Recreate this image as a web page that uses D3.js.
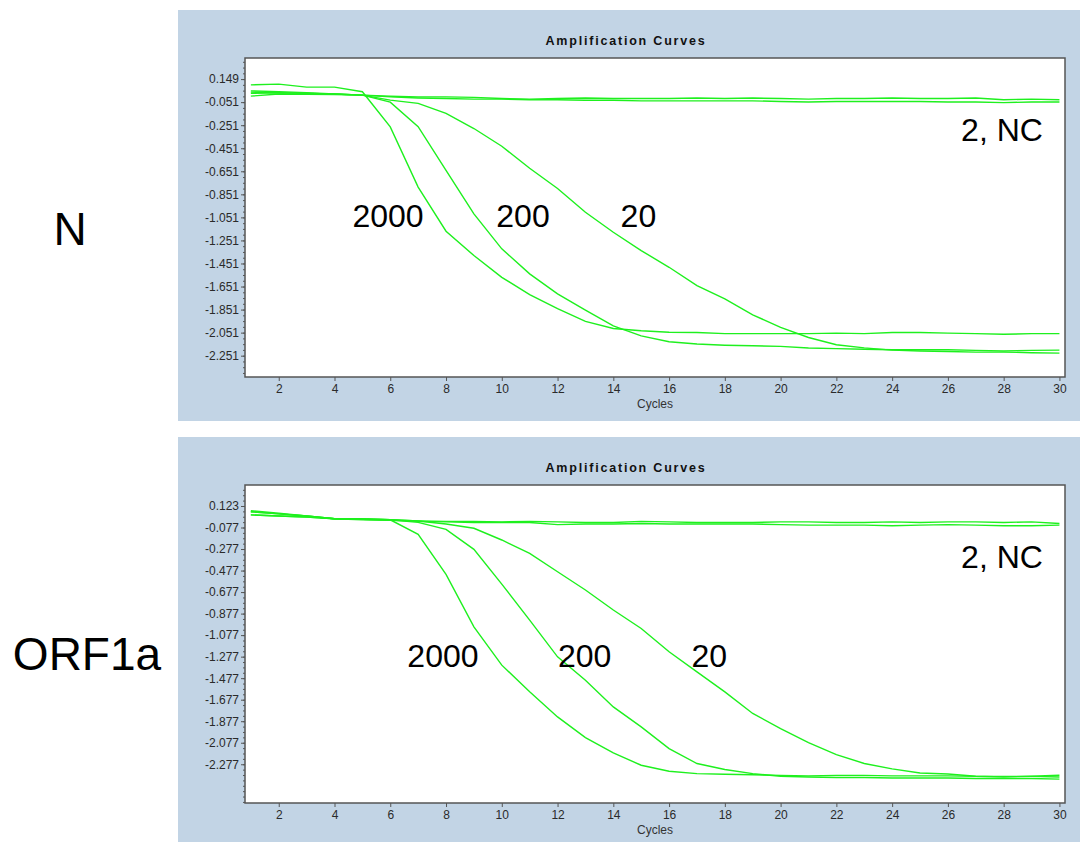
<!DOCTYPE html>
<html>
<head>
<meta charset="utf-8">
<script src="https://cdn.jsdelivr.net/npm/d3@7"></script>
<style>
  html, body { margin: 0; padding: 0; background: #fff; }
  svg { display: block; }
  .tick text { font-family: "Liberation Sans Narrow", "Liberation Sans", Arial, sans-serif; font-size: 12px; fill: #2a2a2a; }
  .tick line { stroke: #555; }
  .domain { display: none; }
</style>
</head>
<body>
<svg id="chart" width="1080" height="842"></svg>
<script>
const cycles = d3.range(1, 31)

// N gene
const nTicks = [0.149, -0.051, -0.251, -0.451, -0.651, -0.851, -1.051, -1.251, -1.451, -1.651, -1.851, -2.051, -2.251]
const n2000 = [0.099, 0.105, 0.079, 0.079, 0.039, -0.266, -0.788, -1.171, -1.382, -1.571, -1.722, -1.843, -1.954, -2.015, -2.035,
  -2.048, -2.05, -2.06, -2.06, -2.06, -2.06, -2.055, -2.06, -2.05, -2.05, -2.055, -2.06, -2.065, -2.06, -2.06]
const n200 = [0.047, 0.04, 0.03, 0.02, 0.01, -0.051, -0.264, -0.643, -1.02, -1.324, -1.541, -1.715, -1.855, -1.992, -2.079,
  -2.13, -2.15, -2.16, -2.165, -2.17, -2.185, -2.19, -2.195, -2.2, -2.2, -2.2, -2.205, -2.21, -2.205, -2.203]
const n20 = [0.025, 0.03, 0.025, 0.02, 0.01, -0.034, -0.062, -0.149, -0.28, -0.434, -0.625, -0.8, -1.006, -1.18, -1.339,
  -1.484, -1.643, -1.759, -1.896, -2.006, -2.093, -2.156, -2.183, -2.203, -2.21, -2.215, -2.22, -2.22, -2.225, -2.229]
const n2 = [0.036, 0.03, 0.025, 0.02, 0.01, 0.0, -0.005, -0.005, -0.01, -0.02, -0.025, -0.02, -0.015, -0.02, -0.02,
  -0.02, -0.015, -0.02, -0.015, -0.02, -0.025, -0.02, -0.02, -0.015, -0.02, -0.02, -0.015, -0.03, -0.025, -0.03]
const nNC = [0.001, 0.02, 0.018, 0.015, 0.01, -0.005, -0.015, -0.02, -0.025, -0.025, -0.03, -0.03, -0.035, -0.035, -0.04,
  -0.04, -0.04, -0.04, -0.04, -0.045, -0.05, -0.045, -0.045, -0.045, -0.045, -0.05, -0.05, -0.055, -0.05, -0.05]

// ORF1a gene
const orfTicks = [0.123, -0.077, -0.277, -0.477, -0.677, -0.877, -1.077, -1.277, -1.477, -1.677, -1.877, -2.077, -2.277]
const orf2000 = [0.079, 0.055, 0.03, 0.005, 0.005, -0.005, -0.14, -0.512, -1.0, -1.356, -1.604, -1.837, -2.029, -2.172, -2.286,
  -2.342, -2.364, -2.37, -2.375, -2.38, -2.385, -2.38, -2.38, -2.385, -2.385, -2.385, -2.39, -2.39, -2.39, -2.395]
const orf200 = [0.04, 0.03, 0.02, 0.005, 0.0, -0.005, -0.029, -0.094, -0.28, -0.603, -0.937, -1.279, -1.496, -1.744, -1.93,
  -2.131, -2.27, -2.326, -2.364, -2.389, -2.395, -2.4, -2.4, -2.405, -2.405, -2.405, -2.41, -2.41, -2.41, -2.415]
const orf20 = [0.07, 0.05, 0.03, 0.005, 0.0, -0.005, -0.017, -0.045, -0.084, -0.193, -0.317, -0.488, -0.658, -0.844, -1.015,
  -1.232, -1.418, -1.604, -1.805, -1.945, -2.075, -2.187, -2.27, -2.32, -2.358, -2.367, -2.389, -2.395, -2.389, -2.379]
const orf2 = [0.07, 0.05, 0.03, 0.005, 0.0, -0.005, -0.015, -0.02, -0.02, -0.025, -0.02, -0.025, -0.03, -0.03, -0.02,
  -0.025, -0.03, -0.03, -0.03, -0.025, -0.025, -0.03, -0.03, -0.025, -0.03, -0.025, -0.025, -0.03, -0.025, -0.04]
const orfNC = [0.04, 0.03, 0.02, 0.005, -0.005, -0.01, -0.02, -0.025, -0.03, -0.03, -0.03, -0.05, -0.045, -0.045, -0.04,
  -0.045, -0.045, -0.045, -0.045, -0.05, -0.055, -0.055, -0.055, -0.06, -0.055, -0.05, -0.055, -0.06, -0.06, -0.055]

const xTicks = d3.range(2, 31, 2)

// label anchors in data units (cycle, value)
const nLabels = [["2000", 5.92, -1.135], ["200", 10.76, -1.135], ["20", 14.9, -1.135], ["2, NC", 27.94, -0.388]]
const orfLabels = [["2000", 7.89, -1.373], ["200", 12.97, -1.373], ["20", 17.44, -1.373], ["2, NC", 27.94, -0.453]]

const panels = [
  {name: "N", series: [n2000, n200, n20, n2, nNC], ticks: nTicks, labels: nLabels,
   yDomain: [0.332, -2.436], box: {x: 178, y: 10, w: 902, h: 411}, plot: {top: 58, bottom: 377},
   nameX: 70, nameY: 245},
  {name: "ORF1a", series: [orf2000, orf200, orf20, orf2, orfNC], ticks: orfTicks, labels: orfLabels,
   yDomain: [0.318, -2.637], box: {x: 178, y: 437, w: 902, h: 405}, plot: {top: 485, bottom: 803},
   nameX: 87, nameY: 670},
]

const svg = d3.select("#chart")
const left = 245, right = 1065
const green = "#1ef01e"
const fontMain = "'Liberation Sans', Arial, sans-serif"

panels.forEach(p => {
  const g = svg.append("g")

  g.append("rect")
    .attr("x", p.box.x).attr("y", p.box.y)
    .attr("width", p.box.w).attr("height", p.box.h)
    .attr("fill", "#c2d4e5")

  g.append("rect")
    .attr("x", left).attr("y", p.plot.top)
    .attr("width", right - left).attr("height", p.plot.bottom - p.plot.top)
    .attr("fill", "#fff")

  const x = d3.scaleLinear().domain([0.79, 30.2]).range([left, right])
  const y = d3.scaleLinear().domain(p.yDomain).range([p.plot.top, p.plot.bottom])

  g.append("text")
    .attr("x", p.box.x + p.box.w / 2 - 3).attr("y", p.plot.top - 13)
    .attr("text-anchor", "middle")
    .attr("font-family", fontMain)
    .attr("font-weight", "bold")
    .attr("font-size", 12.5)
    .attr("letter-spacing", 1.8)
    .attr("fill", "#111")
    .text("Amplification Curves")

  // minor y ticks
  const minor = d3.range(p.ticks[0] + 0.15, p.yDomain[1], -0.05)
  g.append("g")
    .attr("transform", `translate(${left},0)`)
    .call(d3.axisLeft(y).tickValues(minor).tickSize(2).tickFormat(""))
    .selectAll(".tick line").attr("stroke", "#888")

  g.append("g")
    .attr("transform", `translate(${left},0)`)
    .call(d3.axisLeft(y).tickValues(p.ticks).tickSize(4).tickPadding(2).tickFormat(d => d.toFixed(3)))

  g.append("g")
    .attr("transform", `translate(0,${p.plot.bottom})`)
    .call(d3.axisBottom(x).tickValues(xTicks).tickSize(4).tickPadding(3))

  g.append("text")
    .attr("x", (left + right) / 2).attr("y", p.plot.bottom + 31)
    .attr("text-anchor", "middle")
    .attr("font-family", fontMain)
    .attr("font-size", 12)
    .attr("fill", "#333")
    .text("Cycles")

  const line = d3.line().x((d, i) => x(cycles[i])).y(d => y(d))

  g.append("g")
    .selectAll("path")
    .data(p.series)
    .join("path")
    .attr("d", line)
    .attr("fill", "none")
    .attr("stroke", green)
    .attr("stroke-width", 1.4)

  // plot frame
  g.append("rect")
    .attr("x", left).attr("y", p.plot.top)
    .attr("width", right - left).attr("height", p.plot.bottom - p.plot.top)
    .attr("fill", "none")
    .attr("stroke", "#555")
    .attr("stroke-width", 1.5)

  g.append("g")
    .selectAll("text")
    .data(p.labels)
    .join("text")
    .attr("x", d => x(d[1])).attr("y", d => y(d[2]))
    .attr("text-anchor", "middle")
    .attr("font-family", fontMain)
    .attr("font-size", 32)
    .attr("fill", "#000")
    .text(d => d[0])

  svg.append("text")
    .attr("x", p.nameX).attr("y", p.nameY)
    .attr("text-anchor", "middle")
    .attr("font-family", fontMain)
    .attr("font-size", 46)
    .attr("fill", "#000")
    .text(p.name)
})
</script>
</body>
</html>
